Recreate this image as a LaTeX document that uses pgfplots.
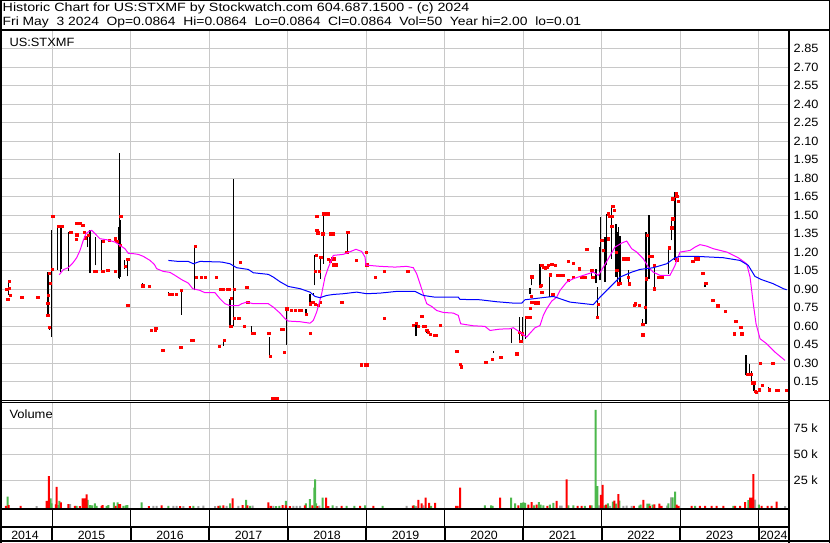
\documentclass[border=0pt]{standalone}
\usepackage{pgfplots}
\pgfplotsset{compat=1.18}
\usepackage{fontspec}
\usepackage{graphicx}
\setmainfont{Liberation Sans}
\definecolor{gridgray}{RGB}{200,200,200}
\definecolor{volgreen}{RGB}{76,184,76}
\definecolor{volgray}{RGB}{160,160,160}
\definecolor{volred}{RGB}{255,0,0}
\definecolor{magma}{RGB}{255,0,255}
\definecolor{mablue}{RGB}{0,0,255}
\begin{document}
\begin{tikzpicture}[font=\fontsize{12}{14}\selectfont]
\path[use as bounding box] (0pt,0pt) rectangle (830pt,543pt);
\fill[white] (0pt,0pt) rectangle (830pt,543pt);
% ---------------- price panel ----------------
\begin{axis}[
  at={(2pt,143pt)}, anchor=south west, scale only axis,
  width=787pt, height=369pt,
  xmin=2014.3595, xmax=2024.385, ymin=0, ymax=2.993,
  axis line style={draw=none}, major tick length=0pt,
  xtick={2015,2016,2017,2018,2019,2020,2021,2022,2023,2024}, xticklabels={},
  ytick={0.15,0.30,0.45,0.60,0.75,0.90,1.05,1.20,1.35,1.50,1.65,1.80,1.95,2.10,2.25,2.40,2.55,2.70,2.85},
  yticklabels={0.15,0.30,0.45,0.60,0.75,0.90,1.05,1.20,1.35,1.50,1.65,1.80,1.95,2.10,2.25,2.40,2.55,2.70,2.85},
  yticklabel pos=right,
  tick label style={font=\fontsize{12}{14}\selectfont},
  yticklabel style={anchor=west, inner sep=0pt, xshift=4.5pt, xscale=1.06},
  grid=major, grid style={color=gridgray, line width=1pt},
  unbounded coords=jump, clip mode=individual,
]
\addplot[black, line width=1.2pt, forget plot] coordinates {
(2014.440,0.848) (2014.440,0.969) (2014.440,nan)
(2014.945,0.686) (2014.945,1.037) (2014.945,nan)
(2014.965,0.570) (2014.965,0.600) (2014.965,nan)
(2014.988,0.510) (2014.988,1.381) (2014.988,nan)
(2015.064,1.057) (2015.064,1.403) (2015.064,nan)
(2015.107,1.037) (2015.107,1.416) (2015.107,nan)
(2015.120,1.060) (2015.120,1.416) (2015.120,nan)
(2015.204,1.045) (2015.204,1.362) (2015.204,nan)
(2015.451,1.240) (2015.451,1.335) (2015.451,nan)
(2015.481,1.029) (2015.481,1.381) (2015.481,nan)
(2015.553,1.092) (2015.553,1.322) (2015.553,nan)
(2015.630,1.045) (2015.630,1.300) (2015.630,nan)
(2015.841,0.990) (2015.841,1.403) (2015.841,nan)
(2015.854,0.984) (2015.854,2.003) (2015.854,nan)
(2015.872,1.000) (2015.872,1.460) (2015.872,nan)
(2015.918,1.065) (2015.918,1.132) (2015.918,nan)
(2015.956,1.002) (2015.956,1.146) (2015.956,nan)
(2016.147,0.920) (2016.147,0.950) (2016.147,nan)
(2016.478,0.860) (2016.478,0.875) (2016.478,nan)
(2016.644,0.692) (2016.644,0.897) (2016.644,nan)
(2016.810,0.889) (2016.810,1.248) (2016.810,nan)
(2017.179,0.442) (2017.179,0.483) (2017.179,nan)
(2017.264,0.599) (2017.264,0.821) (2017.264,nan)
(2017.306,0.599) (2017.306,1.795) (2017.306,nan)
(2017.535,0.542) (2017.535,0.600) (2017.535,nan)
(2017.765,0.356) (2017.765,0.515) (2017.765,nan)
(2017.986,0.448) (2017.986,0.745) (2017.986,nan)
(2018.232,0.694) (2018.232,0.740) (2018.232,nan)
(2018.283,0.775) (2018.283,0.862) (2018.283,nan)
(2018.325,0.850) (2018.325,0.870) (2018.325,nan)
(2018.338,0.929) (2018.338,1.173) (2018.338,nan)
(2018.419,0.984) (2018.419,1.159) (2018.419,nan)
(2018.452,1.105) (2018.452,1.511) (2018.452,nan)
(2018.763,1.200) (2018.763,1.362) (2018.763,nan)
(2019.634,0.518) (2019.634,0.623) (2019.634,nan)
(2019.770,0.540) (2019.770,0.560) (2019.770,nan)
(2020.618,0.380) (2020.618,0.400) (2020.618,nan)
(2020.852,0.461) (2020.852,0.578) (2020.852,nan)
(2020.950,0.461) (2020.950,0.672) (2020.950,nan)
(2020.993,0.461) (2020.993,0.672) (2020.993,nan)
(2021.031,0.497) (2021.031,0.672) (2021.031,nan)
(2021.086,0.862) (2021.086,0.910) (2021.086,nan)
(2021.107,0.929) (2021.107,1.011) (2021.107,nan)
(2021.204,0.921) (2021.204,1.097) (2021.204,nan)
(2021.213,0.916) (2021.213,1.105) (2021.213,nan)
(2021.222,0.930) (2021.222,1.080) (2021.222,nan)
(2021.331,0.834) (2021.331,1.016) (2021.331,nan)
(2021.872,0.997) (2021.872,1.051) (2021.872,nan)
(2021.926,0.948) (2021.926,1.065) (2021.926,nan)
(2021.943,0.672) (2021.943,0.916) (2021.943,nan)
(2021.977,0.970) (2021.977,1.240) (2021.977,nan)
(2021.986,0.984) (2021.986,1.484) (2021.986,nan)
(2022.041,0.956) (2022.041,1.322) (2022.041,nan)
(2022.063,1.092) (2022.063,1.511) (2022.063,nan)
(2022.126,1.146) (2022.126,1.571) (2022.126,nan)
(2022.181,1.000) (2022.181,1.430) (2022.181,nan)
(2022.198,0.940) (2022.198,1.360) (2022.198,nan)
(2022.216,1.050) (2022.216,1.400) (2022.216,nan)
(2022.232,0.943) (2022.232,1.330) (2022.232,nan)
(2022.338,0.929) (2022.338,1.051) (2022.338,nan)
(2022.521,0.618) (2022.521,0.659) (2022.521,nan)
(2022.563,0.618) (2022.563,1.362) (2022.563,nan)
(2022.602,0.984) (2022.602,1.497) (2022.602,nan)
(2022.669,0.903) (2022.669,1.092) (2022.669,nan)
(2022.746,0.985) (2022.746,1.000) (2022.746,nan)
(2022.848,1.024) (2022.848,1.235) (2022.848,nan)
(2022.891,1.295) (2022.891,1.471) (2022.891,nan)
(2022.933,1.132) (2022.933,1.687) (2022.933,nan)
(2023.209,1.146) (2023.209,1.170) (2023.209,nan)
(2023.315,0.916) (2023.315,0.956) (2023.315,nan)
(2023.837,0.199) (2023.837,0.361) (2023.837,nan)
(2023.880,0.207) (2023.880,0.294) (2023.880,nan)
(2023.910,0.131) (2023.910,0.239) (2023.910,nan)
(2023.939,0.071) (2023.939,0.131) (2023.939,nan)
(2024.122,0.077) (2024.122,0.104)
};
\addplot[only marks, mark=square*, mark size=1.1pt, color=red, forget plot] coordinates {
(2014.419,0.899) (2014.452,0.907) (2014.461,0.848) (2014.432,0.818) (2014.449,0.962)
(2014.610,0.834) (2014.814,0.834) (2014.949,0.848) (2014.942,0.786) (2014.942,0.686)
(2014.962,0.591) (2014.971,0.948) (2014.962,1.029) (2015.005,1.492) (2015.003,1.062)
(2015.077,1.408) (2015.120,1.408) (2015.235,1.362) (2015.311,1.435) (2015.332,1.435)
(2015.353,1.435) (2015.388,1.416) (2015.311,1.341) (2015.302,1.303) (2015.404,1.362)
(2015.417,1.317) (2015.459,1.335) (2015.532,1.045) (2015.557,1.045) (2015.642,1.045)
(2015.706,1.051) (2015.723,1.295) (2015.646,1.287) (2015.799,1.308) (2015.821,1.287)
(2015.799,1.045) (2015.872,1.489) (2015.866,1.254) (2015.926,1.084) (2015.961,1.140)
(2015.956,0.767) (2015.968,0.767) (2016.152,0.927) (2016.232,0.921) (2016.258,0.564)
(2016.308,0.564) (2016.317,0.583) (2016.407,0.402) (2016.491,0.859) (2016.525,0.859)
(2016.576,0.859) (2016.644,0.889) (2016.636,0.429) (2016.767,0.483) (2016.793,0.483)
(2016.818,1.248) (2016.831,0.997) (2016.895,0.997) (2016.945,0.997) (2017.086,0.997)
(2017.124,0.437) (2017.188,0.483) (2017.137,0.899) (2017.171,0.899) (2017.230,0.899)
(2017.255,0.899) (2017.319,0.899) (2017.391,1.119) (2017.477,0.916) (2017.277,0.826)
(2017.315,0.664) (2017.375,0.664) (2017.273,0.599) (2017.442,0.599) (2017.489,0.794)
(2017.544,0.542) (2017.570,0.542) (2017.757,0.542) (2017.774,0.356) (2017.805,0.012)
(2017.837,0.012) (2017.869,0.012) (2017.922,0.575) (2017.943,0.575) (2017.986,0.740)
(2017.952,0.388) (2018.041,0.726) (2018.092,0.726) (2018.143,0.726) (2018.168,0.726)
(2018.232,0.694) (2018.283,0.542) (2018.283,0.781) (2018.317,0.794) (2018.347,0.775)
(2018.360,1.173) (2018.347,1.045) (2018.402,1.045) (2018.419,1.159) (2018.410,0.794)
(2018.389,0.767) (2018.368,1.492) (2018.368,1.376) (2018.381,1.357) (2018.452,1.511)
(2018.483,1.511) (2018.516,1.511) (2018.445,1.349) (2018.538,1.349) (2018.572,1.349)
(2018.516,1.140) (2018.538,1.130) (2018.572,1.146) (2018.593,1.146) (2018.580,1.097)
(2018.614,1.097) (2018.763,1.362) (2018.751,1.200) (2018.869,1.132) (2018.687,0.794)
(2018.996,1.200) (2019.005,1.097) (2018.933,0.286) (2018.984,0.286) (2019.005,0.286)
(2019.111,0.997) (2019.226,1.045) (2019.226,0.664) (2019.528,1.045) (2019.599,0.605)
(2019.634,0.623) (2019.663,0.600) (2019.726,0.600) (2019.748,0.600) (2019.706,0.680)
(2019.770,0.564) (2019.790,0.548) (2019.812,0.532) (2019.867,0.523) (2019.888,0.523)
(2019.939,0.605) (2020.152,0.394) (2020.194,0.290) (2020.207,0.270) (2020.521,0.307)
(2020.602,0.329) (2020.712,0.348) (2020.916,0.375) (2020.950,0.550) (2020.967,0.477)
(2020.988,0.537) (2021.035,0.672) (2021.060,0.672) (2021.086,0.672) (2021.086,0.745)
(2021.107,0.794) (2021.149,0.789) (2021.184,0.789) (2021.098,0.840) (2021.107,1.000)
(2021.213,0.921) (2021.234,0.875) (2021.255,1.080) (2021.277,1.070) (2021.298,1.080)
(2021.340,1.016) (2021.362,1.100) (2021.404,1.092) (2021.375,0.856) (2021.438,1.011)
(2021.459,1.011) (2021.234,1.092) (2021.319,1.092) (2021.226,0.929) (2021.445,1.011)
(2021.489,1.011) (2021.510,1.011) (2021.574,1.124) (2021.574,0.970) (2021.637,1.110)
(2021.637,0.997) (2021.714,1.065) (2021.744,0.997) (2021.786,0.997) (2021.808,1.224)
(2021.872,1.051) (2021.884,0.997) (2021.943,0.672) (2021.956,0.775) (2021.999,1.295)
(2022.020,1.213) (2022.083,1.308) (2022.083,1.511) (2022.096,1.490) (2022.140,1.571)
(2022.156,1.540) (2022.126,1.490) (2022.126,1.410) (2022.181,1.200) (2022.190,1.051)
(2022.210,0.943) (2022.232,0.950) (2022.274,1.146) (2022.309,1.146) (2022.330,1.146)
(2022.338,0.997) (2022.351,0.943) (2022.423,0.781) (2022.410,0.767) (2022.478,0.767)
(2022.521,0.618) (2022.521,0.529) (2022.550,0.753) (2022.563,0.984) (2022.580,1.335)
(2022.605,1.165) (2022.636,1.165) (2022.669,0.903) (2022.669,1.092) (2022.720,0.997)
(2022.763,0.997) (2022.860,1.235) (2022.891,1.397) (2022.903,1.471) (2022.945,1.679)
(2022.954,1.652) (2022.903,1.633) (2022.975,1.614) (2022.954,1.138) (2023.158,1.127)
(2023.188,1.146) (2023.230,1.146) (2023.286,1.029) (2023.323,0.950) (2023.413,0.808)
(2023.477,0.765) (2023.570,0.721) (2023.706,0.640) (2023.770,0.591) (2023.685,0.537)
(2023.783,0.537) (2023.854,0.207) (2023.880,0.207) (2023.897,0.207) (2023.918,0.140)
(2023.939,0.140) (2023.952,0.071) (2023.965,0.063) (2024.016,0.299) (2024.178,0.299)
(2024.003,0.083) (2024.045,0.123) (2024.134,0.083) (2024.228,0.077) (2024.249,0.077)
(2024.347,0.077)
};
\addplot[magma, line width=1pt, forget plot] coordinates {
(2015.089,1.016) (2015.140,1.057) (2015.204,1.073) (2015.260,1.110) (2015.311,1.154)
(2015.353,1.213) (2015.395,1.295) (2015.430,1.349) (2015.472,1.370) (2015.502,1.376)
(2015.544,1.349) (2015.608,1.308) (2015.693,1.300) (2015.799,1.281) (2015.863,1.254)
(2015.926,1.227) (2015.968,1.190) (2016.032,1.187) (2016.096,1.181) (2016.160,1.165)
(2016.245,1.132) (2016.300,1.100) (2016.330,1.065) (2016.414,1.043) (2016.500,1.035)
(2016.563,1.011) (2016.649,0.976) (2016.733,0.948) (2016.789,0.903) (2016.882,0.889)
(2016.945,0.870) (2017.073,0.870) (2017.137,0.821) (2017.200,0.781) (2017.264,0.765)
(2017.370,0.765) (2017.413,0.781) (2017.477,0.794) (2017.561,0.781) (2017.752,0.781)
(2017.816,0.753) (2017.901,0.705) (2017.965,0.659) (2018.007,0.640) (2018.156,0.635)
(2018.283,0.623) (2018.325,0.645) (2018.368,0.713) (2018.432,0.862) (2018.474,0.997)
(2018.516,1.073) (2018.580,1.173) (2018.707,1.181) (2018.814,1.208) (2018.869,1.222)
(2018.942,1.205) (2018.984,1.159) (2018.996,1.094) (2019.175,1.084) (2019.366,1.078)
(2019.515,1.084) (2019.599,1.073) (2019.642,1.024) (2019.684,0.943) (2019.726,0.862)
(2019.770,0.781) (2019.833,0.759) (2019.897,0.726) (2019.981,0.710) (2020.109,0.705)
(2020.172,0.686) (2020.203,0.618) (2020.363,0.602) (2020.512,0.597) (2020.576,0.564)
(2020.704,0.575) (2020.831,0.578) (2020.873,0.586) (2020.958,0.550) (2021.043,0.510)
(2021.086,0.542) (2021.149,0.586) (2021.213,0.604) (2021.255,0.686) (2021.298,0.740)
(2021.340,0.781) (2021.362,0.802) (2021.426,0.834) (2021.468,0.889) (2021.553,0.956)
(2021.637,0.984) (2021.765,1.011) (2021.892,1.037) (2021.956,1.011) (2022.020,1.078)
(2022.083,1.146) (2022.168,1.240) (2022.254,1.273) (2022.317,1.289) (2022.381,1.227)
(2022.445,1.200) (2022.529,1.146) (2022.593,1.078) (2022.656,1.037) (2022.742,1.011)
(2022.869,1.011) (2022.933,1.092) (2022.997,1.200) (2023.124,1.213) (2023.188,1.240)
(2023.251,1.260) (2023.337,1.248) (2023.421,1.227) (2023.592,1.200) (2023.739,1.154)
(2023.846,1.105) (2023.889,0.997) (2023.930,0.781) (2023.965,0.618) (2024.016,0.497)
(2024.101,0.456) (2024.207,0.388) (2024.334,0.321)
};
\addplot[mablue, line width=1pt, forget plot] coordinates {
(2016.478,1.132) (2016.605,1.124) (2016.733,1.124) (2016.796,1.105) (2016.882,1.124)
(2017.158,1.119) (2017.264,1.105) (2017.349,1.073) (2017.497,1.059) (2017.561,1.032)
(2017.752,1.019) (2017.816,0.997) (2017.901,0.959) (2018.007,0.921) (2018.156,0.903)
(2018.283,0.875) (2018.347,0.840) (2018.410,0.830) (2018.496,0.848) (2018.580,0.856)
(2018.707,0.862) (2018.878,0.875) (2019.005,0.862) (2019.175,0.867) (2019.388,0.881)
(2019.621,0.881) (2019.726,0.848) (2019.876,0.834) (2020.172,0.834) (2020.194,0.816)
(2020.449,0.813) (2020.662,0.797) (2020.873,0.786) (2020.980,0.786) (2021.022,0.813)
(2021.128,0.821) (2021.298,0.834) (2021.383,0.840) (2021.595,0.794) (2021.892,0.773)
(2021.977,0.834) (2022.105,0.916) (2022.232,0.997) (2022.381,1.037) (2022.487,1.059)
(2022.656,1.073) (2022.827,1.105) (2022.933,1.154) (2022.997,1.165) (2023.209,1.165)
(2023.548,1.154) (2023.761,1.132) (2023.866,1.092) (2023.952,1.002) (2024.037,0.976)
(2024.185,0.943) (2024.312,0.903) (2024.356,0.894)
};
\end{axis}
% ---------------- volume panel ----------------
\begin{axis}[
  at={(2pt,33.7pt)}, anchor=south west, scale only axis,
  width=787pt, height=106.3pt,
  xmin=2014.3595, xmax=2024.385, ymin=0, ymax=102.2,
  axis line style={draw=none}, major tick length=0pt,
  xtick={2015,2016,2017,2018,2019,2020,2021,2022,2023,2024}, xticklabels={},
  ytick={27.88,52.88,77.88}, yticklabels={25 k,50 k,75 k},
  yticklabel pos=right,
  tick label style={font=\fontsize{12}{14}\selectfont},
  yticklabel style={anchor=west, inner sep=0pt, xshift=4.5pt, xscale=1.06},
  grid=major, grid style={color=gridgray, line width=1pt},
  clip mode=individual,
]
\addplot[ybar, bar width=2pt, bar shift=0pt, fill=volgray, draw=none, forget plot]
  table[x=x, y expr=\thisrow{v}+2.88] {
x v
2014.801 0.2
2015.226 2.0
2016.287 0.3
2016.330 0.3
2016.542 0.3
2016.585 0.3
2016.669 0.2
2016.860 0.2
2016.924 0.6
2017.073 0.2
2017.222 0.3
2017.370 0.3
2017.553 0.6
2017.816 0.3
2018.070 0.3
2018.113 0.3
2018.156 0.3
2018.402 0.6
2018.623 0.2
2019.515 0.3
2019.634 0.2
2019.726 1.0
2021.468 0.6
2021.489 0.6
2021.965 0.8
2022.105 0.3
2022.274 0.3
2022.317 0.6
2022.381 0.3
2022.831 0.6
2022.882 8.5
2023.952 6.3
2024.334 0.2
};
\addplot[ybar, bar width=2pt, bar shift=0pt, fill=volgreen, draw=none, forget plot]
  table[x=x, y expr=\thisrow{v}+2.88] {
x v
2014.432 9.2
2014.942 2.9
2014.980 7.7
2014.993 2.9
2015.077 1.2
2015.089 5.1
2015.311 0.3
2015.451 6.1
2015.481 1.25
2015.506 1.0
2015.544 2.9
2015.566 0.5
2015.693 0.5
2015.714 1.25
2015.786 3.8
2015.833 3.8
2015.905 0.5
2015.939 1.0
2015.956 1.25
2016.139 3.8
2016.478 0.5
2016.797 0.5
2017.137 0.6
2017.264 2.9
2017.468 6.1
2017.519 0.5
2017.850 0.2
2017.892 0.5
2017.977 5.1
2018.232 2.9
2018.283 7.0
2018.338 17.9
2018.347 26.0
2018.360 2.9
2018.445 8.3
2018.572 0.8
2018.751 0.3
2018.848 0.3
2018.984 1.0
2019.209 0.3
2019.608 1.0
2019.825 0.5
2020.512 0.8
2020.589 0.8
2020.611 0.3
2020.844 8.3
2020.895 2.9
2020.971 3.2
2021.001 3.8
2021.022 3.2
2021.137 0.8
2021.200 4.0
2021.222 1.5
2021.255 0.8
2021.340 1.5
2021.383 3.2
2021.574 0.8
2021.637 1.0
2021.786 0.3
2021.872 0.8
2021.923 92.6
2021.943 19.5
2022.032 0.8
2022.076 2.9
2022.140 4.5
2022.181 2.5
2022.224 5.5
2022.478 0.6
2022.496 1.5
2022.580 2.5
2022.605 2.5
2022.648 1.5
2022.848 2.9
2022.903 8.5
2022.933 14.0
2023.188 0.3
2023.676 0.3
2023.866 6.0
2024.000 1.5
};
\addplot[ybar, bar width=2pt, bar shift=0pt, fill=volred, draw=none, forget plot]
  table[x=x, y expr=\thisrow{v}+2.88] {
x v
2014.410 0.3
2014.445 1.25
2014.598 0.3
2014.929 5.1
2014.958 29.1
2015.047 1.9
2015.056 18.6
2015.111 3.8
2015.204 2.2
2015.289 0.3
2015.353 0.2
2015.388 7.7
2015.408 7.7
2015.438 11.5
2015.630 0.5
2015.642 1.2
2015.808 0.5
2015.850 2.2
2015.863 2.2
2016.232 0.2
2016.394 1.0
2016.627 0.2
2016.754 0.1
2017.115 0.4
2017.179 0.8
2017.298 7.7
2017.426 1.25
2017.484 0.8
2017.752 3.8
2017.786 0.3
2017.935 1.25
2017.977 0.8
2018.028 0.1
2018.219 1.0
2018.312 0.8
2018.376 0.2
2018.487 8.3
2018.516 0.2
2018.687 0.3
2018.920 0.3
2019.090 0.3
2019.595 0.6
2019.663 6.1
2019.706 2.9
2019.757 8.3
2019.799 3.2
2019.876 3.2
2020.143 0.5
2020.165 0.5
2020.194 17.9
2020.704 8.3
2020.937 1.0
2021.064 1.5
2021.107 4.0
2021.171 1.5
2021.306 0.3
2021.426 5.1
2021.553 26.0
2021.693 0.3
2021.744 0.3
2021.850 1.0
2021.990 10.9
2022.012 20.5
2022.054 1.5
2022.160 5.5
2022.211 11.8
2022.410 0.3
2022.529 6.1
2022.614 0.5
2022.669 1.8
2022.733 2.5
2022.763 0.5
2022.954 1.5
2022.980 0.5
2023.146 0.3
2023.251 0.3
2023.315 0.3
2023.400 0.5
2023.464 0.3
2023.548 0.3
2023.697 0.3
2023.761 0.3
2023.825 4.1
2023.889 8.3
2023.918 8.3
2023.930 31.0
2024.037 0.3
2024.114 0.3
2024.165 0.3
2024.228 4.4
};
\end{axis}
% ---------------- frame ----------------
\draw[line width=2pt] (1pt,0pt) -- (1pt,543pt);
\draw[line width=1pt] (0pt,542.5pt) -- (830pt,542.5pt);
\draw[line width=1pt] (829.5pt,0pt) -- (829.5pt,543pt);
\draw[line width=2pt] (0pt,1.5pt) -- (830pt,1.5pt);
\draw[line width=2pt] (0pt,513pt) -- (830pt,513pt);
\draw[line width=2pt] (789pt,0pt) -- (789pt,513pt);
\draw[line width=1pt] (0pt,142.7pt) -- (830pt,142.7pt);
\draw[line width=1pt] (0pt,140.7pt) -- (789pt,140.7pt);
\draw[line width=2pt] (0pt,33.7pt) -- (789pt,33.7pt);
\draw[line width=2pt] (0pt,16.3pt) -- (789pt,16.3pt);
\foreach \px in {52.3,130.8,209.3,287.8,366.3,444.8,523.3,601.8,680.3,758.8}{
  \draw[line width=1pt] (\px pt,33.7pt) -- (\px pt,16.3pt);
  \draw[line width=2pt] (\px pt,16.3pt) -- (\px pt,1.5pt);
}
% ---------------- texts ----------------
\node[anchor=base west, inner sep=0pt] at (2.5pt,531.7pt) {\scalebox{1.19}[1]{Historic Chart for US:STXMF by Stockwatch.com 604.687.1500 - (c) 2024}};
\node[anchor=base west, inner sep=0pt] at (2.5pt,517pt) {\scalebox{1.155}[1]{Fri May~~3 2024~~Op=0.0864~~Hi=0.0864~~Lo=0.0864~~Cl=0.0864~~Vol=50~~Year hi=2.00~~lo=0.01}};
\node[anchor=base west, inner sep=0pt] at (9.3pt,496.3pt) {\scalebox{1.07}[1]{US:STXMF}};
\node[anchor=base west, inner sep=0pt] at (9.3pt,124.7pt) {\scalebox{1.08}[1]{Volume}};
\foreach \cx/\yr in {25/2014,91.5/2015,170/2016,248.5/2017,327/2018,405.5/2019,484/2020,562.5/2021,641/2022,719.5/2023,773.8/2024}{
  \node[anchor=base, inner sep=0pt] at (\cx pt,3.7pt) {\scalebox{1.03}[1]{\yr}};
}
\end{tikzpicture}
\end{document}
